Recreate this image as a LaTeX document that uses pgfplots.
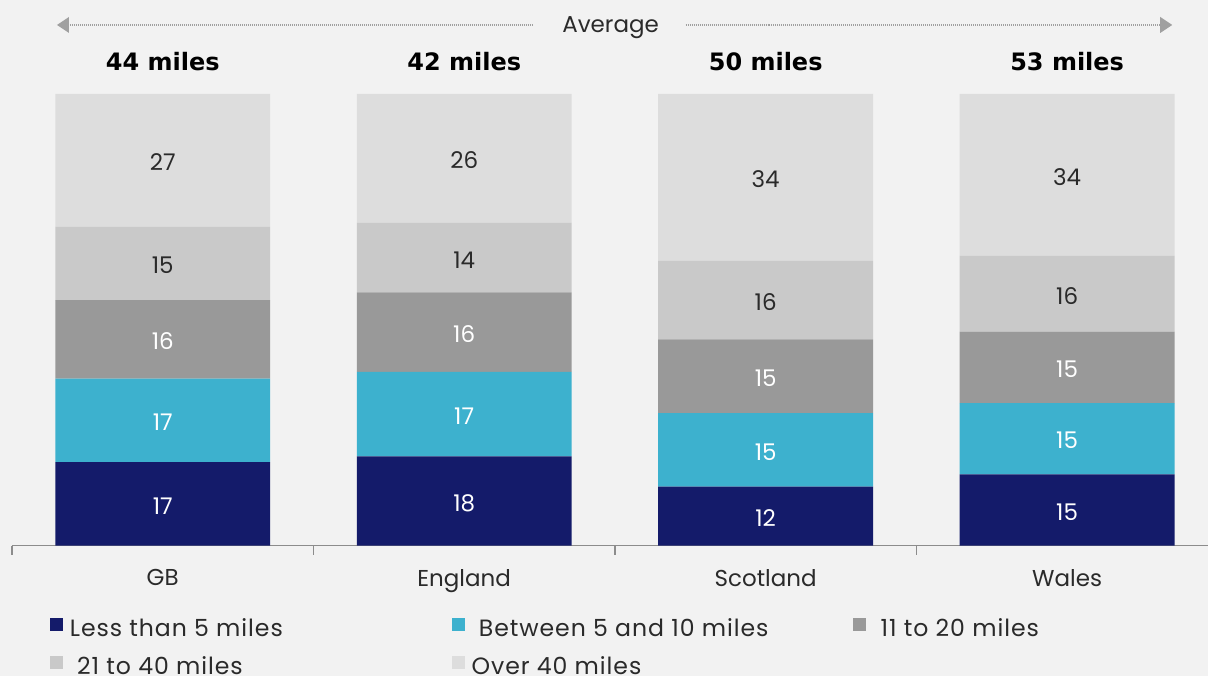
\documentclass[border=0pt]{standalone}
\usepackage{pgfplots}
\pgfplotsset{compat=1.18}
\usepackage{pgfplotstable}
\usepackage{fontspec}
\setmainfont{Poppins}
\newfontfamily\legfont{Poppins}[LetterSpace=4]
\newfontfamily\headfont{DejaVu Sans}
\definecolor{bg}{HTML}{F2F2F2}
\definecolor{cA}{HTML}{141B6A}
\definecolor{cB}{HTML}{3DB1CE}
\definecolor{cC}{HTML}{999999}
\definecolor{cD}{HTML}{C9C9C9}
\definecolor{cE}{HTML}{DDDDDD}
\definecolor{txt}{HTML}{2A2A2A}
\definecolor{axisgray}{HTML}{8C8C8C}
\definecolor{arrowgray}{HTML}{A0A0A0}

\pgfplotstableread{
x cat a b c d e avg
0 GB 17 17 16 15 27 44
1 England 18 17 16 14 26 42
2 Scotland 12 15 15 16 34 50
3 Wales 15 15 15 16 34 53
}\data

\newcommand{\tot}{(\thisrow{a}+\thisrow{b}+\thisrow{c}+\thisrow{d}+\thisrow{e})}

\pgfplotsset{
  common/.style={
    at={(6pt,65pt)}, anchor=south west,
    scale only axis, width=598.5pt, height=226pt,
    xmin=-0.5, xmax=3.468, ymin=0, ymax=100,
  }
}

\begin{document}
\begin{tikzpicture}
\begin{scope}[x=0.5pt,y=-0.5pt,yshift=338pt]
\fill[bg] (0,0) rectangle (1209,676);
\useasboundingbox (0,0) rectangle (1209,676);
% Average header
\draw[arrowgray, line width=0.6pt, dash pattern=on 0.4pt off 0.6pt] (66,25) -- (533,25);
\draw[arrowgray, line width=0.6pt, dash pattern=on 0.4pt off 0.6pt] (686,25) -- (1164,25);
\fill[arrowgray] (57,25) -- (69,17) -- (69,33) -- cycle;
\fill[arrowgray] (1173,25) -- (1161,17) -- (1161,33) -- cycle;
\node[font=\fontsize{11.5}{14}\selectfont, text=txt, anchor=base] at (611,33) {Average};
\end{scope}

\begin{axis}[common,
  ybar stacked, bar width=107.5pt,
  axis x line=bottom, axis y line=none,
  x axis line style={-, axisgray, line width=0.8pt},
  xtick={0,1,2,3}, xticklabels={GB,England,Scotland,Wales},
  xtick align=outside,
  major tick length=0pt,
  extra x ticks={-0.5,0.5,1.5,2.5}, extra x tick labels={},
  extra x tick style={major tick length=4.5pt, tick align=outside,
     tick style={draw=axisgray, line width=0.8pt}},
  xticklabel style={font=\fontsize{11.5}{14}\selectfont, text=txt, yshift=-8.5pt},
  legend columns=3,
  legend cell align=left,
  legend style={draw=none, fill=none, inner sep=0pt, outer sep=0pt,
    at={(axis description cs:0.0317,-0.2275)}, anchor=west,
    font=\legfont\fontsize{11.8}{13}\selectfont, text=txt,
    row sep=7.5pt,
    nodes={inner sep=0pt, text height=8pt, text depth=2pt},
    /tikz/every odd column/.append style={column sep=3.5pt}},
  legend image code/.code={\path[#1, draw=none] (0pt,0pt) rectangle (6.5pt,6.5pt);},
]
\addplot[fill=cA, draw=none] table[x=x, y expr={100*\thisrow{a}/\tot}] {\data};
\addplot[fill=cB, draw=none] table[x=x, y expr={100*\thisrow{b}/\tot}] {\data};
\addplot[fill=cC, draw=none] table[x=x, y expr={100*\thisrow{c}/\tot}] {\data};
\addplot[fill=cD, draw=none] table[x=x, y expr={100*\thisrow{d}/\tot}] {\data};
\addplot[fill=cE, draw=none] table[x=x, y expr={100*\thisrow{e}/\tot}] {\data};
\legend{\makebox[191pt][l]{Less than 5 miles},\makebox[191pt][l]{\ Between 5 and 10 miles},\ 11 to 20 miles,\makebox[191pt][l]{\ 21 to 40 miles},\makebox[191pt][l]{Over 40 miles}}
\end{axis}

\begin{axis}[common, hide axis, clip=false,
  nodes near coords, point meta=explicit symbolic,
  every node near coord/.append style={anchor=center, yshift=-1pt, font=\fontsize{11.5}{14}\selectfont},
]
\addplot[draw=none, mark=none, nodes near coords style={text=white}]
  table[x=x, y expr={100*(0.5*\thisrow{a})/\tot}, meta=a] {\data};
\addplot[draw=none, mark=none, nodes near coords style={text=white}]
  table[x=x, y expr={100*(\thisrow{a}+0.5*\thisrow{b})/\tot}, meta=b] {\data};
\addplot[draw=none, mark=none, nodes near coords style={text=white}]
  table[x=x, y expr={100*(\thisrow{a}+\thisrow{b}+0.5*\thisrow{c})/\tot}, meta=c] {\data};
\addplot[draw=none, mark=none, nodes near coords style={text=txt}]
  table[x=x, y expr={100*(\thisrow{a}+\thisrow{b}+\thisrow{c}+0.5*\thisrow{d})/\tot}, meta=d] {\data};
\addplot[draw=none, mark=none, nodes near coords style={text=txt}]
  table[x=x, y expr={100*(\thisrow{a}+\thisrow{b}+\thisrow{c}+\thisrow{d}+0.5*\thisrow{e})/\tot}, meta=e] {\data};
\addplot[draw=none, mark=none, nodes near coords={\pgfplotspointmeta\ miles},
  nodes near coords style={text=black, yshift=1pt, font=\headfont\bfseries\fontsize{12}{14}\selectfont}]
  table[x=x, y expr=107.1, meta=avg] {\data};
\end{axis}
\end{tikzpicture}
\end{document}
